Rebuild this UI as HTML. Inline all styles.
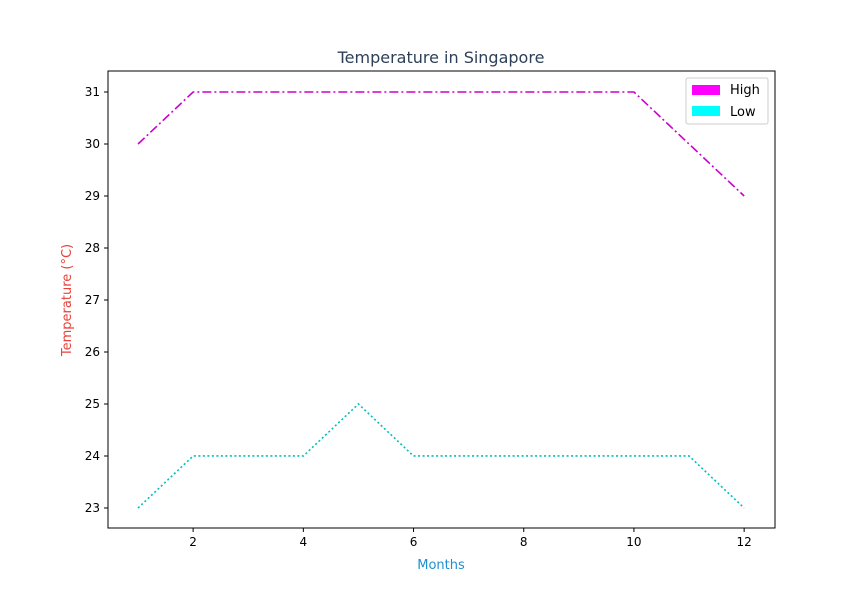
<!DOCTYPE html>
<html><head><meta charset="utf-8"><style>
body{margin:0;background:#fff}
svg text{font-family:"DejaVu Sans","Liberation Sans",sans-serif}
</style></head><body>
<svg id="chart" width="861" height="594" xmlns="http://www.w3.org/2000/svg">
<rect width="861" height="594" fill="#fff"/>
<text x="441" y="63" text-anchor="middle" font-size="16" fill="#2e4057">Temperature in Singapore</text>
<text x="441" y="569" text-anchor="middle" font-size="13" fill="#1f8fd0">Months</text>
<text transform="translate(71,300) rotate(-90)" text-anchor="middle" font-size="13" fill="#e8423a">Temperature (°C)</text>
<g id="ticks"></g>
<g id="lines"></g>
<rect x="108" y="71" width="667" height="457" fill="none" stroke="#000" stroke-width="1"/>
<g>
<rect x="686" y="78" width="82" height="46" fill="#fff" stroke="#ccc" rx="2"/>
<rect x="692" y="85" width="28" height="10" fill="#ff00ff"/>
<text x="730" y="94" font-size="13">High</text>
<rect x="692" y="106" width="28" height="10" fill="#00ffff"/>
<text x="730" y="116" font-size="13">Low</text>
</g>
</svg>
<script>
const months=[1,2,3,4,5,6,7,8,9,10,11,12];
const highTemps=[30,31,31,31,31,31,31,31,31,31,30,29];
const lowTemps=[23,24,24,24,25,24,24,24,24,24,24,23];
const xTicks=[2,4,6,8,10,12];
const yTicks=[23,24,25,26,27,28,29,30,31];
const L=108,R=775,T=71,B=528;
const xMin=0.455,xMax=12.56,yMin=22.615,yMax=31.404;
const xs=v=>L+(v-xMin)/(xMax-xMin)*(R-L);
const ys=v=>B-(v-yMin)/(yMax-yMin)*(B-T);
const NS="http://www.w3.org/2000/svg";
const tg=document.getElementById('ticks'),lg=document.getElementById('lines');
function mk(t,a,p){const e=document.createElementNS(NS,t);for(const k in a)e.setAttribute(k,a[k]);p.appendChild(e);return e;}
xTicks.forEach(v=>{const x=xs(v);
const l=mk('line',{x1:x,x2:x,y1:B,y2:B+4,stroke:'#000'},tg);


const t=mk('text',{x:x,y:B+18,'text-anchor':'middle','font-size':12},tg);t.textContent=v;

});
yTicks.forEach(v=>{const y=ys(v);
const l=mk('line',{x1:L-4,x2:L,y1:y,y2:y,stroke:'#000'},tg);


const t=mk('text',{x:L-8,y:y+4,'text-anchor':'end','font-size':12},tg);t.textContent=v;

});
const hp=months.map((m,i)=>xs(m)+','+ys(highTemps[i])).join(' ');
const h=mk('polyline',{points:hp,fill:'none',stroke:'#cc00cc','stroke-width':1.6,'stroke-dasharray':'9,3,2,3'},lg);


const lp=months.map((m,i)=>xs(m)+','+ys(lowTemps[i])).join(' ');
const lo=mk('polyline',{points:lp,fill:'none',stroke:'#00bfbf','stroke-width':1.6,'stroke-dasharray':'2,2.5'},lg);


</script>
</body></html>
